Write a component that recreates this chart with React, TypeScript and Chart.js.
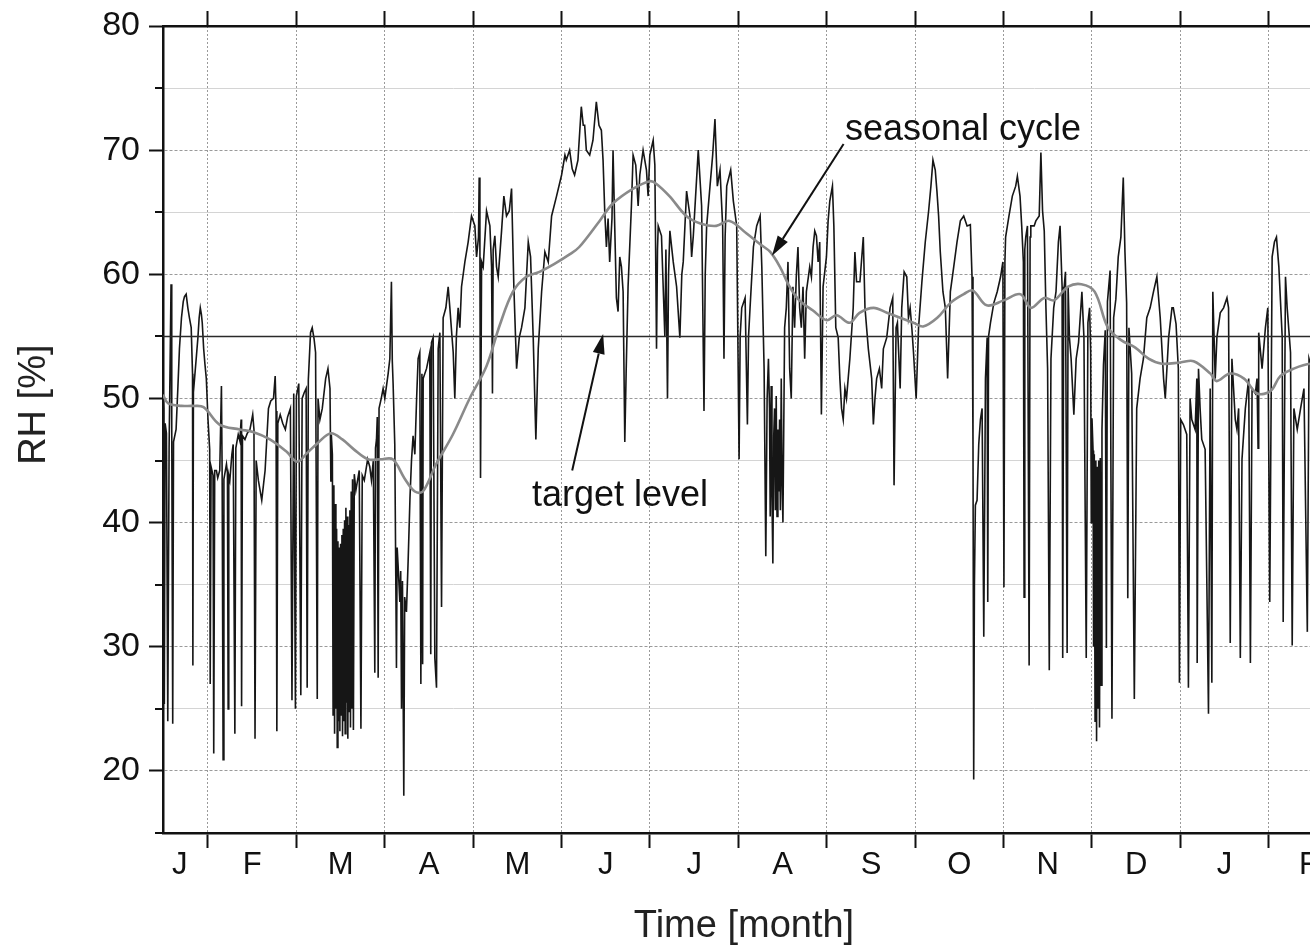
import React, { useEffect, useRef } from 'react';
import { Chart, registerables } from 'chart.js';

Chart.register(...registerables);

const FONT = '"Liberation Sans", Arial, Helvetica, sans-serif';

// x is measured in months: 0 = 1 Jan, 1 = 1 Feb, ..., 12 = 1 Jan (next year), 13 = 1 Feb
const xRange = [0.491, 13.636];
const monthBoundaries = [1, 2, 3, 4, 5, 6, 7, 8, 9, 10, 11, 12, 13];
const monthLabels = ['J', 'F', 'M', 'A', 'M', 'J', 'J', 'A', 'S', 'O', 'N', 'D', 'J', 'F'];
const monthLabelPositions = [0.68, 1.5, 2.5, 3.5, 4.5, 5.5, 6.5, 7.5, 8.5, 9.5, 10.5, 11.5, 12.5, 13.45];

const yRange = [15, 80];
const yMajorTicks = [20, 30, 40, 50, 60, 70, 80];
const yMinorTicks = [15, 25, 35, 45, 55, 65, 75];
const yMinorGrid = [25, 35, 45, 55, 65, 75];
const targetLevel = 55;

// measured relative humidity [%] (month, RH)
const rhJanMar = [
  [0.49, 50.6], [0.5, 49.2], [0.506, 25.4], [0.515, 48.0], [0.53, 47.2], [0.545, 24.0], [0.56, 46.0], [0.582, 59.2],
  [0.59, 47.5], [0.601, 23.8], [0.61, 46.5], [0.639, 47.5], [0.66, 51.0], [0.677, 54.0], [0.7, 56.5], [0.72, 57.8],
  [0.734, 58.2], [0.753, 58.4], [0.772, 57.3], [0.79, 56.5], [0.81, 55.7], [0.825, 52.0], [0.829, 28.5], [0.835, 50.5],
  [0.848, 51.6], [0.87, 53.5], [0.886, 54.9], [0.9, 56.5], [0.913, 57.3], [0.925, 56.8], [0.935, 56.1], [0.951, 54.0],
  [0.965, 52.8], [0.981, 51.6], [1.0, 48.3], [1.019, 45.9], [1.025, 27.0], [1.035, 44.5], [1.057, 43.8], [1.065, 21.4],
  [1.076, 44.2], [1.095, 44.2], [1.11, 43.6], [1.133, 44.2], [1.152, 51.0], [1.16, 44.0], [1.171, 20.9], [1.18, 43.5],
  [1.209, 44.7], [1.22, 44.0], [1.228, 25.0], [1.235, 43.8], [1.247, 43.4], [1.27, 45.5], [1.285, 46.3], [1.304, 23.0],
  [1.315, 46.0], [1.342, 47.1], [1.36, 46.6], [1.375, 48.3], [1.38, 25.2], [1.39, 47.0], [1.418, 46.7], [1.445, 47.2],
  [1.475, 47.5], [1.506, 48.7], [1.52, 47.5], [1.532, 22.6], [1.545, 45.0], [1.57, 43.4], [1.608, 41.8], [1.63, 43.2],
  [1.646, 44.2], [1.684, 49.2], [1.71, 49.8], [1.741, 50.0], [1.76, 51.8], [1.77, 49.0], [1.779, 23.2], [1.79, 48.0],
  [1.817, 48.7], [1.845, 48.0], [1.875, 47.5], [1.9, 48.5], [1.932, 49.2], [1.95, 25.7], [1.97, 50.4], [1.989, 25.0],
  [2.0, 50.2], [2.027, 51.2], [2.05, 26.1], [2.065, 50.0], [2.09, 50.5], [2.11, 50.8], [2.122, 26.7], [2.135, 51.5],
  [2.16, 55.3], [2.179, 55.7], [2.2, 54.8], [2.217, 53.7], [2.236, 25.8], [2.245, 50.0], [2.266, 48.3], [2.293, 49.2],
  [2.331, 51.6], [2.357, 52.4], [2.38, 50.8], [2.39, 43.3], [2.395, 47.1], [2.407, 45.5], [2.415, 24.5], [2.424, 43.0],
  [2.432, 23.0], [2.44, 41.5], [2.447, 25.0], [2.455, 39.5], [2.462, 21.9], [2.47, 38.5], [2.477, 24.0], [2.485, 38.0],
  [2.492, 23.2], [2.5, 38.3], [2.507, 24.5], [2.515, 39.0], [2.522, 22.8], [2.53, 39.5], [2.537, 24.0], [2.545, 40.2],
  [2.552, 23.0], [2.56, 41.2], [2.567, 25.5], [2.575, 40.5], [2.582, 22.6], [2.59, 39.8], [2.597, 24.8], [2.605, 41.0],
  [2.612, 23.5], [2.62, 42.5], [2.627, 25.0], [2.635, 43.5], [2.645, 23.3], [2.655, 43.9], [2.673, 42.6], [2.711, 44.2],
  [2.73, 23.4], [2.745, 43.8], [2.768, 43.4], [2.806, 45.1],
];

const rhMarMay = [
  [2.83, 44.5], [2.849, 43.4], [2.87, 45.0], [2.887, 27.9], [2.895, 46.0], [2.906, 46.7], [2.915, 48.5], [2.925, 27.5],
  [2.935, 49.2], [2.96, 50.0], [2.981, 50.8], [3.0, 50.0], [3.038, 52.0], [3.057, 53.2], [3.075, 59.4], [3.085, 53.0],
  [3.094, 51.2], [3.113, 46.3], [3.132, 28.3], [3.14, 38.0], [3.151, 36.5], [3.17, 33.6], [3.18, 36.1], [3.189, 25.0],
  [3.2, 35.3], [3.215, 18.0], [3.225, 34.0], [3.245, 32.8], [3.264, 36.9], [3.285, 42.0], [3.302, 45.0], [3.32, 47.0],
  [3.34, 45.5], [3.36, 50.0], [3.377, 53.2], [3.396, 53.7], [3.408, 27.0], [3.42, 52.0], [3.428, 28.6], [3.434, 51.6],
  [3.472, 52.4], [3.509, 53.7], [3.52, 29.4], [3.528, 54.5], [3.547, 54.9], [3.566, 29.1], [3.585, 26.7], [3.604, 54.0],
  [3.623, 55.3], [3.642, 33.2], [3.66, 56.5], [3.691, 57.3], [3.717, 59.0], [3.736, 57.3], [3.76, 55.0], [3.774, 53.7],
  [3.792, 50.0], [3.81, 55.0], [3.83, 57.3], [3.849, 55.7], [3.868, 59.0], [3.906, 61.0], [3.943, 62.6], [3.981, 64.7],
  [4.019, 63.9], [4.038, 61.4], [4.06, 63.0], [4.068, 67.8], [4.076, 62.0], [4.083, 43.6], [4.095, 61.0], [4.113, 60.6],
  [4.151, 65.1], [4.189, 63.9], [4.208, 60.6], [4.218, 50.4], [4.226, 62.0], [4.245, 63.1], [4.264, 60.6], [4.283, 59.8],
  [4.321, 63.5], [4.347, 66.3], [4.377, 64.7], [4.408, 65.1], [4.434, 66.9], [4.46, 59.0], [4.491, 52.4], [4.521, 54.9],
  [4.547, 55.7], [4.585, 57.3], [4.623, 62.6], [4.649, 61.4], [4.679, 54.9], [4.709, 46.7], [4.736, 54.0], [4.774, 58.6],
  [4.811, 61.8], [4.849, 61.0], [4.887, 64.7], [4.943, 66.3], [5.0, 68.0], [5.038, 69.6],
];

const rhJunJul = [
  [5.053, 69.2], [5.091, 70.0], [5.12, 68.5], [5.147, 68.0], [5.185, 69.2], [5.223, 73.5], [5.245, 72.0], [5.261, 72.0],
  [5.28, 70.0], [5.318, 69.6], [5.355, 70.8], [5.393, 73.9], [5.423, 72.0], [5.45, 71.6], [5.469, 69.2], [5.488, 65.1],
  [5.507, 62.2], [5.526, 64.5], [5.544, 61.0], [5.57, 64.5], [5.582, 70.0], [5.601, 63.9], [5.62, 58.1], [5.639, 57.0],
  [5.658, 61.4], [5.677, 60.6], [5.696, 58.6], [5.715, 46.5], [5.73, 52.0], [5.752, 59.0], [5.79, 65.5], [5.809, 69.6],
  [5.839, 68.8], [5.866, 65.5], [5.885, 68.0], [5.922, 70.0], [5.96, 68.4], [5.979, 66.3], [5.998, 69.6], [6.036, 70.8],
  [6.055, 68.8], [6.074, 54.0], [6.085, 62.0], [6.093, 63.9], [6.13, 63.1], [6.168, 55.0], [6.18, 62.0], [6.198, 50.0],
  [6.21, 60.0], [6.225, 63.5], [6.263, 61.0], [6.301, 59.0], [6.338, 54.9], [6.36, 60.0], [6.376, 61.0], [6.414, 66.7],
  [6.452, 64.7], [6.471, 61.4], [6.49, 63.1], [6.546, 70.0], [6.584, 65.5], [6.611, 49.0], [6.625, 60.0], [6.641, 63.9],
  [6.679, 67.1], [6.709, 69.6], [6.735, 72.5], [6.762, 67.1], [6.792, 68.4], [6.822, 63.9], [6.837, 53.2], [6.85, 63.0],
  [6.868, 67.1], [6.913, 68.4], [6.943, 65.9], [6.981, 63.9], [7.008, 45.1], [7.02, 55.0], [7.038, 57.3], [7.076, 58.1],
  [7.102, 47.9], [7.115, 55.0], [7.132, 57.3], [7.17, 62.2], [7.207, 63.9], [7.246, 64.7], [7.265, 60.6], [7.291, 52.4],
  [7.31, 37.3], [7.325, 50.0], [7.34, 53.2],
];

const rhAugOct = [
  [7.352, 49.2], [7.36, 40.5], [7.371, 51.0], [7.38, 42.0], [7.39, 36.7], [7.4, 47.0], [7.409, 49.2], [7.418, 41.0],
  [7.428, 50.2], [7.437, 40.5], [7.447, 47.5], [7.456, 42.5], [7.466, 48.3], [7.475, 41.0], [7.485, 51.6], [7.495, 43.0],
  [7.504, 40.0], [7.523, 55.7], [7.542, 57.3], [7.561, 61.0], [7.58, 52.4], [7.598, 50.0], [7.617, 59.0], [7.636, 55.7],
  [7.655, 59.8], [7.674, 62.2], [7.693, 57.3], [7.712, 55.7], [7.731, 59.0], [7.75, 53.2], [7.769, 58.6], [7.807, 60.6],
  [7.826, 59.8], [7.845, 62.2], [7.864, 63.5], [7.883, 63.1], [7.902, 61.0], [7.92, 62.6], [7.939, 48.7], [7.958, 59.0],
  [7.996, 61.4], [8.015, 64.3], [8.034, 65.9], [8.064, 67.1], [8.08, 63.9], [8.102, 55.7], [8.129, 54.9], [8.148, 51.6],
  [8.167, 49.2], [8.186, 48.3], [8.205, 50.8], [8.223, 50.0], [8.242, 51.6], [8.261, 53.2], [8.299, 57.3], [8.318, 61.8],
  [8.337, 59.4], [8.375, 59.4], [8.413, 63.0], [8.432, 57.3], [8.47, 54.0], [8.508, 51.6], [8.527, 47.9], [8.545, 50.0],
  [8.564, 51.6], [8.595, 52.4], [8.621, 50.8], [8.64, 54.0], [8.678, 54.9], [8.716, 57.3], [8.746, 58.1], [8.761, 43.0],
  [8.784, 55.7], [8.799, 56.1], [8.83, 50.8], [8.848, 57.3], [8.875, 60.2], [8.905, 59.8], [8.924, 56.5], [8.943, 57.3],
  [8.962, 55.7], [8.981, 53.7], [9.011, 50.0], [9.038, 55.7], [9.076, 59.4], [9.114, 62.6], [9.152, 65.1], [9.178, 67.1],
  [9.201, 69.2], [9.227, 68.4], [9.246, 66.7], [9.265, 64.7], [9.284, 61.8], [9.314, 58.6], [9.341, 57.3], [9.367, 51.6],
  [9.398, 58.6], [9.436, 60.6], [9.473, 62.6], [9.511, 64.3], [9.549, 64.7], [9.587, 63.9],
];

const rhOctDec = [
  [9.624, 64.0], [9.643, 59.8], [9.654, 46.3], [9.662, 19.3], [9.67, 35.0], [9.681, 41.4], [9.7, 41.8], [9.719, 46.3],
  [9.738, 48.3], [9.757, 49.2], [9.776, 30.8], [9.795, 51.6], [9.814, 54.9], [9.821, 33.6], [9.83, 55.0], [9.852, 56.1],
  [9.89, 57.7], [9.928, 58.6], [9.966, 59.8], [9.992, 61.0], [10.004, 34.8], [10.015, 61.0], [10.023, 63.0], [10.061, 64.7],
  [10.099, 66.3], [10.137, 67.1], [10.156, 67.9], [10.186, 66.3], [10.205, 63.9], [10.224, 61.0], [10.232, 34.0], [10.24, 62.0],
  [10.251, 63.0], [10.27, 63.9], [10.289, 28.5], [10.3, 63.0], [10.308, 63.9], [10.346, 63.9], [10.365, 64.3], [10.403, 64.7],
  [10.422, 69.8], [10.441, 65.1], [10.46, 63.5], [10.479, 57.3], [10.498, 52.4], [10.517, 28.1], [10.536, 53.2], [10.567, 57.3],
  [10.593, 58.6], [10.62, 62.6], [10.639, 63.9], [10.662, 59.0], [10.669, 29.1], [10.68, 58.5], [10.7, 60.2], [10.719, 29.5],
  [10.73, 59.0], [10.745, 54.9], [10.764, 53.2], [10.795, 48.7], [10.821, 53.2], [10.848, 54.5], [10.886, 58.6], [10.909, 54.9],
  [10.935, 29.1], [10.954, 56.1], [10.973, 57.3], [10.985, 53.8], [10.992, 40.0], [11.0, 48.4], [11.012, 45.8], [11.018, 30.0],
  [11.026, 45.5], [11.035, 24.0], [11.044, 45.0], [11.052, 22.4], [11.06, 44.5], [11.068, 25.0], [11.076, 45.0], [11.085, 23.5],
  [11.094, 45.2], [11.104, 26.9], [11.113, 47.5], [11.13, 52.7], [11.15, 55.5], [11.163, 29.9], [11.175, 57.8], [11.205, 60.3],
  [11.226, 24.2], [11.245, 56.5], [11.27, 58.0], [11.297, 61.4], [11.327, 63.0], [11.354, 67.8], [11.373, 61.8], [11.392, 57.7],
  [11.405, 33.9], [11.418, 55.7], [11.449, 52.0], [11.479, 25.8], [11.506, 49.2], [11.544, 51.6], [11.582, 53.2], [11.62, 56.5],
  [11.658, 57.3], [11.696, 58.6], [11.734, 59.8], [11.772, 56.5], [11.81, 51.6], [11.829, 50.0], [11.867, 54.9], [11.905, 57.3],
];

const rhDecFeb = [
  [11.92, 57.3], [11.951, 56.0], [11.977, 52.4], [11.989, 27.1], [12.004, 48.3], [12.034, 47.9], [12.072, 47.1], [12.091, 26.7],
  [12.11, 50.0], [12.129, 48.3], [12.167, 47.5], [12.186, 51.6], [12.19, 28.7], [12.205, 52.4], [12.223, 49.2], [12.242, 46.7],
  [12.28, 45.9], [12.318, 24.6], [12.337, 50.8], [12.356, 27.1], [12.367, 58.6], [12.394, 51.6], [12.413, 54.9], [12.451, 56.9],
  [12.489, 57.3], [12.527, 58.1], [12.545, 57.3], [12.564, 30.3], [12.583, 53.2], [12.621, 48.3], [12.64, 47.5], [12.659, 49.2],
  [12.678, 29.1], [12.697, 45.1], [12.735, 49.2], [12.773, 51.6], [12.792, 28.7], [12.811, 50.8], [12.848, 50.4], [12.867, 51.6],
  [12.879, 46.0], [12.886, 55.3], [12.924, 52.4], [12.962, 55.7], [12.989, 57.3], [13.011, 33.6], [13.038, 61.4], [13.064, 62.6],
  [13.087, 63.0], [13.114, 60.6], [13.152, 54.9], [13.163, 32.0], [13.189, 59.8], [13.208, 57.3], [13.246, 53.7], [13.265, 30.1],
  [13.284, 49.2], [13.322, 47.5], [13.36, 49.2], [13.398, 50.8], [13.436, 31.2], [13.455, 53.2], [13.5, 52.0], [13.55, 50.0],
  [13.6, 48.0], [13.64, 47.0],
];

// smoothed seasonal cycle (month, RH)
const seasonalCycle = [
  [0.49, 50.3], [0.55, 49.6], [0.7, 49.4], [0.83, 49.4], [0.95, 49.3], [1.13, 47.9], [1.36, 47.5], [1.51, 47.3],
  [1.7, 46.7], [1.89, 45.7], [2.01, 44.9], [2.12, 45.6], [2.24, 46.4], [2.39, 47.2], [2.52, 46.7], [2.65, 45.9],
  [2.81, 45.1], [2.95, 45.1], [3.09, 45.1], [3.22, 43.6], [3.34, 42.5], [3.43, 42.5], [3.58, 44.7], [3.77, 47.1],
  [3.96, 50.0], [4.15, 52.6], [4.3, 55.9], [4.45, 58.6], [4.6, 59.8], [4.75, 60.2], [4.91, 60.8], [5.09, 61.6],
  [5.2, 62.2], [5.43, 64.3], [5.58, 65.7], [5.81, 66.9], [6.0, 67.5], [6.07, 67.3], [6.22, 66.3], [6.41, 64.7],
  [6.57, 64.1], [6.75, 63.9], [6.9, 64.3], [7.09, 63.3], [7.25, 62.4], [7.36, 61.8], [7.47, 60.6], [7.58, 59.0],
  [7.69, 57.9], [7.84, 57.1], [8.0, 56.3], [8.11, 56.7], [8.26, 56.1], [8.37, 56.9], [8.53, 57.3], [8.68, 56.9],
  [8.83, 56.5], [8.98, 56.1], [9.09, 55.8], [9.25, 56.5], [9.4, 57.7], [9.55, 58.4], [9.65, 58.7], [9.81, 57.5],
  [10.0, 57.9], [10.19, 58.4], [10.31, 57.3], [10.46, 58.1], [10.57, 57.9], [10.73, 59.0], [10.88, 59.2], [11.03, 58.6],
  [11.18, 55.7], [11.33, 54.7], [11.49, 54.1], [11.64, 53.2], [11.79, 52.8], [12.0, 52.9], [12.15, 53.0], [12.34, 52.0],
  [12.41, 51.4], [12.56, 52.0], [12.72, 51.6], [12.87, 50.4], [13.02, 50.6], [13.13, 51.8], [13.28, 52.4], [13.47, 52.8],
  [13.64, 52.6],
];

// annotations (month, RH)
const noteTexts = ['seasonal cycle', 'target level'];
const noteTextAt = [[8.206, 70.8], [4.665, 41.3]];
const noteArrowFrom = [[8.19, 70.5], [5.12, 44.2]];
const noteArrowTo = [[7.38, 61.5], [5.47, 55.2]];

const xTitle = 'Time [month]';
const yTitle = 'RH [%]';
const yTitleCenter = 49.5;

const toXY = (arr: number[][]) => arr.map(([x, y]) => ({ x, y }));

function drawArrow(ctx: CanvasRenderingContext2D, x1: number, y1: number, x2: number, y2: number) {
  const ang = Math.atan2(y2 - y1, x2 - x1);
  const len = 20;
  const half = 6;
  const bx = x2 - len * Math.cos(ang);
  const by = y2 - len * Math.sin(ang);
  ctx.beginPath();
  ctx.moveTo(x1, y1);
  ctx.lineTo(bx, by);
  ctx.lineWidth = 2;
  ctx.stroke();
  ctx.beginPath();
  ctx.moveTo(x2, y2);
  ctx.lineTo(bx - half * Math.sin(ang), by + half * Math.cos(ang));
  ctx.lineTo(bx + half * Math.sin(ang), by - half * Math.cos(ang));
  ctx.closePath();
  ctx.fill();
}

const decorPlugin = {
  id: 'decor',
  afterDraw(chart: any) {
    const { ctx } = chart;
    const x = chart.scales.x;
    const y = chart.scales.y;
    ctx.save();
    // minor ticks on the left axis
    ctx.strokeStyle = '#111';
    ctx.lineWidth = 2;
    for (const v of yMinorTicks) {
      const py = Math.round(y.getPixelForValue(v));
      ctx.beginPath();
      ctx.moveTo(y.right - 8, py);
      ctx.lineTo(y.right, py);
      ctx.stroke();
    }
    // y axis title
    ctx.fillStyle = '#222';
    ctx.font = `38px ${FONT}`;
    ctx.textAlign = 'center';
    ctx.textBaseline = 'middle';
    ctx.save();
    ctx.translate(35, y.getPixelForValue(yTitleCenter));
    ctx.rotate(-Math.PI / 2);
    ctx.fillText(yTitle, 0, 0);
    ctx.restore();
    // annotations
    ctx.fillStyle = '#111';
    ctx.strokeStyle = '#111';
    ctx.font = `36px ${FONT}`;
    ctx.textAlign = 'left';
    ctx.textBaseline = 'alphabetic';
    noteTexts.forEach((t, i) => {
      ctx.fillText(t, x.getPixelForValue(noteTextAt[i][0]), y.getPixelForValue(noteTextAt[i][1]));
      drawArrow(
        ctx,
        x.getPixelForValue(noteArrowFrom[i][0]),
        y.getPixelForValue(noteArrowFrom[i][1]),
        x.getPixelForValue(noteArrowTo[i][0]),
        y.getPixelForValue(noteArrowTo[i][1])
      );
    });
    ctx.restore();
  },
};

export default function App() {
  const ref = useRef<HTMLCanvasElement | null>(null);

  useEffect(() => {
    const canvas = ref.current;
    if (!canvas) return;
    const xTickList = [
      ...monthBoundaries.map((v) => ({ value: v, lbl: '' })),
      ...monthLabelPositions.map((v, i) => ({ value: v, lbl: monthLabels[i] })),
    ].sort((a, b) => a.value - b.value);

    const rhPoints = toXY([...rhJanMar, ...rhMarMay, ...rhJunJul, ...rhAugOct, ...rhOctDec, ...rhDecFeb]);

    const chart = new Chart(canvas, {
      type: 'line',
      data: {
        datasets: [
          {
            label: 'seasonal cycle',
            data: toXY(seasonalCycle),
            borderColor: '#8a8a8a',
            borderWidth: 2.6,
            pointRadius: 0,
            tension: 0.35,
            order: 0,
          },
          {
            label: 'target level',
            data: [
              { x: xRange[0], y: targetLevel },
              { x: xRange[1], y: targetLevel },
            ],
            borderColor: '#2a2a2a',
            borderWidth: 1.5,
            pointRadius: 0,
            order: 1,
          },
          {
            label: 'RH',
            data: rhPoints,
            borderColor: '#161616',
            borderWidth: 1.6,
            pointRadius: 0,
            tension: 0,
            order: 2,
          },
        ],
      } as any,
      options: {
        responsive: false,
        animation: false,
        devicePixelRatio: 1,
        events: [],
        layout: { padding: 0 },
        plugins: { legend: { display: false }, tooltip: { enabled: false } },
        scales: {
          x: {
            type: 'linear',
            position: 'bottom',
            min: xRange[0],
            max: xRange[1],
            afterBuildTicks: (s: any) => {
              s.ticks = xTickList.map((t) => ({ ...t }));
            },
            afterFit: (s: any) => {
              s.height = 113;
            },
            ticks: {
              autoSkip: false,
              maxRotation: 0,
              padding: 2,
              color: '#111',
              font: { family: FONT, size: 31, lineHeight: 1 },
              callback: (_v: any, i: number, ticks: any[]) => (ticks[i] && ticks[i].lbl) || '',
            },
            grid: {
              color: (c: any) => (c.tick && c.tick.lbl ? 'rgba(0,0,0,0)' : '#9a9a9a'),
              tickColor: (c: any) => (c.tick && c.tick.lbl ? 'rgba(0,0,0,0)' : '#111'),
              lineWidth: 1,
              tickLength: 15,
              tickWidth: 2,
            },
            border: { color: '#111', width: 2.5, dash: [2, 2] },
            title: {
              display: true,
              text: xTitle,
              color: '#222',
              font: { family: FONT, size: 38, lineHeight: 1 },
              padding: { top: 0, bottom: 0 },
            },
          },
          xTop: {
            type: 'linear',
            position: 'top',
            min: xRange[0],
            max: xRange[1],
            afterBuildTicks: (s: any) => {
              s.ticks = monthBoundaries.map((v) => ({ value: v }));
            },
            afterFit: (s: any) => {
              s.height = 24;
            },
            ticks: { display: false },
            grid: {
              drawOnChartArea: false,
              color: '#111',
              tickColor: '#111',
              tickLength: 15,
              tickWidth: 2,
            },
            border: { color: '#111', width: 2.5 },
          },
          y: {
            type: 'linear',
            position: 'left',
            min: yRange[0],
            max: yRange[1],
            afterBuildTicks: (s: any) => {
              s.ticks = yMajorTicks.map((v) => ({ value: v }));
            },
            afterFit: (s: any) => {
              s.width = 163;
            },
            ticks: {
              padding: 9,
              color: '#111',
              font: { family: FONT, size: 34, lineHeight: 1 },
            },
            grid: {
              color: '#9a9a9a',
              lineWidth: 1,
              tickLength: 14,
              tickWidth: 2,
              tickColor: '#111',
            },
            border: { color: '#111', width: 2.5, dash: [3, 2] },
          },
          y2: {
            type: 'linear',
            position: 'right',
            min: yRange[0],
            max: yRange[1],
            afterBuildTicks: (s: any) => {
              s.ticks = yMinorGrid.map((v) => ({ value: v }));
            },
            afterFit: (s: any) => {
              s.width = 5;
            },
            ticks: { display: false },
            grid: { color: '#d4d4d4', lineWidth: 1, drawTicks: false },
            border: { display: false },
          },
        },
      } as any,
      plugins: [decorPlugin],
    });
    return () => chart.destroy();
  }, []);

  return (
    <div
      style={{
        position: 'fixed',
        left: 0,
        top: 0,
        width: 1310,
        height: 946,
        overflow: 'hidden',
        background: '#fff',
      }}
    >
      <canvas ref={ref} width={1330} height={946} style={{ display: 'block', width: 1330, height: 946 }} />
    </div>
  );
}
